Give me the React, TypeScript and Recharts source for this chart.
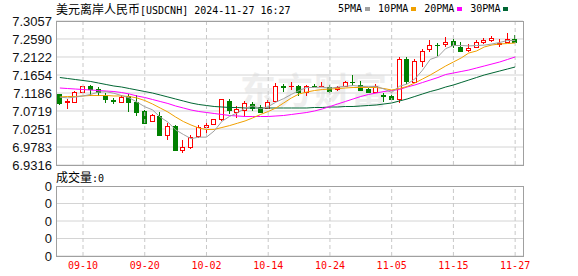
import { Bar, CartesianGrid, ComposedChart, Line, ReferenceLine, XAxis, YAxis } from "recharts";

const dates = [
  "09-05", "09-06", "09-09", "09-10", "09-11", "09-12", "09-13", "09-16", "09-17", "09-18",
  "09-19", "09-20", "09-23", "09-24", "09-25", "09-26", "09-27", "09-30", "10-01", "10-02",
  "10-03", "10-04", "10-07", "10-08", "10-09", "10-10", "10-11", "10-14", "10-15", "10-16",
  "10-17", "10-18", "10-21", "10-22", "10-23", "10-24", "10-25", "10-28", "10-29", "10-30",
  "10-31", "11-01", "11-04", "11-05", "11-06", "11-07", "11-08", "11-11", "11-12", "11-13",
  "11-14", "11-15", "11-18", "11-19", "11-20", "11-21", "11-22", "11-25", "11-26", "11-27",
];

const opens = [
  7.115, 7.095, 7.096, 7.122, 7.137, 7.129, 7.112, 7.1, 7.096, 7.11,
  7.096, 7.072, 7.046, 7.059, 7.01, 7.034, 6.971, 6.978, 7.007, 7.03,
  7.038, 7.052, 7.099, 7.07, 7.074, 7.09, 7.083, 7.079, 7.097, 7.136,
  7.137, 7.137, 7.12, 7.138, 7.137, 7.135, 7.128, 7.137, 7.148, 7.14,
  7.128, 7.122, 7.113, 7.111, 7.103, 7.207, 7.148, 7.202, 7.232, 7.244,
  7.246, 7.255, 7.239, 7.23, 7.239, 7.252, 7.256, 7.247, 7.251, 7.258,
];
const highs = [
  7.117, 7.102, 7.124, 7.138, 7.139, 7.135, 7.118, 7.105, 7.113, 7.116,
  7.113, 7.074, 7.064, 7.07, 7.04, 7.036, 6.996, 7.009, 7.035, 7.04,
  7.052, 7.104, 7.102, 7.085, 7.098, 7.096, 7.087, 7.1, 7.145, 7.143,
  7.147, 7.14, 7.14, 7.141, 7.148, 7.139, 7.138, 7.15, 7.165, 7.15,
  7.132, 7.141, 7.119, 7.113, 7.211, 7.212, 7.208, 7.234, 7.256, 7.248,
  7.265, 7.258, 7.251, 7.246, 7.256, 7.261, 7.268, 7.258, 7.274, 7.269,
];
const lows = [
  7.087, 7.076, 7.093, 7.121, 7.111, 7.111, 7.092, 7.089, 7.094, 7.07,
  7.059, 7.04, 7.044, 7.01, 6.996, 6.97, 6.962, 6.973, 7.003, 7.005,
  7.036, 7.046, 7.064, 7.055, 7.057, 7.072, 7.066, 7.077, 7.095, 7.122,
  7.126, 7.111, 7.111, 7.133, 7.133, 7.118, 7.125, 7.133, 7.137, 7.124,
  7.12, 7.119, 7.094, 7.1, 7.092, 7.142, 7.146, 7.187, 7.225, 7.216,
  7.239, 7.235, 7.225, 7.225, 7.237, 7.245, 7.251, 7.239, 7.248, 7.251,
];
const closes = [
  7.092, 7.097, 7.122, 7.137, 7.129, 7.122, 7.102, 7.099, 7.109, 7.096,
  7.07, 7.041, 7.061, 7.01, 7.033, 6.971, 6.979, 7.005, 7.031, 7.035,
  7.05, 7.102, 7.074, 7.076, 7.092, 7.08, 7.07, 7.096, 7.137, 7.135,
  7.138, 7.121, 7.136, 7.137, 7.138, 7.125, 7.135, 7.146, 7.147, 7.126,
  7.122, 7.138, 7.112, 7.102, 7.207, 7.15, 7.202, 7.228, 7.243, 7.243,
  7.252, 7.243, 7.229, 7.236, 7.25, 7.256, 7.261, 7.248, 7.258, 7.252,
];

const ma5 = [
  7.108, 7.106, 7.108, 7.111, 7.115, 7.121, 7.122, 7.118, 7.112, 7.106,
  7.095, 7.083, 7.075, 7.056, 7.043, 7.023, 7.011, 7.0, 7.004, 7.004,
  7.02, 7.045, 7.058, 7.067, 7.079, 7.085, 7.078, 7.083, 7.095, 7.104,
  7.115, 7.125, 7.133, 7.133, 7.134, 7.131, 7.134, 7.136, 7.138, 7.136,
  7.135, 7.136, 7.129, 7.12, 7.136, 7.142, 7.155, 7.178, 7.206, 7.213,
  7.234, 7.242, 7.242, 7.241, 7.242, 7.243, 7.246, 7.25, 7.255, 7.255,
];
const ma10 = [
  7.1083, 7.1096, 7.1096, 7.1109, 7.1122, 7.1122, 7.1122, 7.1109, 7.1109, 7.1096,
  7.1057, 7.0992, 7.0901, 7.0797, 7.0693, 7.0563, 7.0446, 7.0355, 7.0277, 7.0238,
  7.024, 7.029, 7.034, 7.04, 7.046, 7.054, 7.0628, 7.0706, 7.0797, 7.0927,
  7.1057, 7.1161, 7.1212, 7.1251, 7.1277, 7.129, 7.1303, 7.1316, 7.1329, 7.1329,
  7.1329, 7.1329, 7.1303, 7.1264, 7.1303, 7.1355, 7.1446, 7.155, 7.1654, 7.1771,
  7.1888, 7.1992, 7.2096, 7.2226, 7.2278, 7.2382, 7.2434, 7.246, 7.2472, 7.2485,
];
const ma20 = [
  7.1316, 7.1303, 7.129, 7.1277, 7.1264, 7.1251, 7.1238, 7.1225, 7.1199, 7.1161,
  7.1109, 7.107, 7.1018, 7.0966, 7.0914, 7.0849, 7.0797, 7.0745, 7.0706, 7.068,
  7.0654, 7.0628, 7.0602, 7.0589, 7.0576, 7.0576, 7.0576, 7.0576, 7.0589, 7.0602,
  7.0628, 7.0654, 7.068, 7.0719, 7.0771, 7.0836, 7.0901, 7.0966, 7.1031, 7.1096,
  7.1148, 7.1186, 7.1225, 7.1251, 7.1277, 7.1342, 7.1394, 7.1459, 7.1524, 7.1589,
  7.1667, 7.1706, 7.1745, 7.1784, 7.1836, 7.1888, 7.194, 7.1992, 7.2057, 7.2122,
];
const ma30 = [
  7.1589, 7.1563, 7.1537, 7.1511, 7.1485, 7.1446, 7.1407, 7.1368, 7.1342, 7.1303,
  7.1264, 7.1225, 7.1186, 7.1135, 7.1083, 7.1031, 7.0979, 7.0927, 7.0888, 7.0862,
  7.0836, 7.0823, 7.081, 7.081, 7.0797, 7.0797, 7.0797, 7.0797, 7.0797, 7.0797,
  7.0797, 7.0797, 7.0797, 7.081, 7.081, 7.0823, 7.0823, 7.0836, 7.0836, 7.0849,
  7.0862, 7.0875, 7.0901, 7.0927, 7.0979, 7.1031, 7.1096, 7.1161, 7.1225, 7.1277,
  7.1342, 7.1394, 7.1459, 7.1524, 7.1589, 7.1654, 7.1706, 7.1758, 7.181, 7.1862,
];

const dateTicks = ["09-10", "09-20", "10-02", "10-14", "10-24", "11-05", "11-15", "11-27"];
const priceTicks = [6.9316, 6.9783, 7.0251, 7.0719, 7.1186, 7.1654, 7.2122, 7.259, 7.3057];
// volume sub-panel: 4 empty rows, every label reads 0 (成交量:0)
const volumeRows = 4;

const legend = [
  { name: "5PMA", color: "#a0a0a0" },
  { name: "10PMA", color: "#f0a000" },
  { name: "20PMA", color: "#ff00ff" },
  { name: "30PMA", color: "#006633" },
];

const rows = dates.map((date, i) => ({
  date,
  open: opens[i],
  high: highs[i],
  low: lows[i],
  close: closes[i],
  ma5: ma5[i],
  ma10: ma10[i],
  ma20: ma20[i],
  ma30: ma30[i],
}));

// layout: the price panel spans 21..165px, the volume panel 186..256px on the same y axis
const PRICE_TOP = priceTicks[priceTicks.length - 1];
const PRICE_BOTTOM = priceTicks[0];
const unitPerPx = (PRICE_TOP - PRICE_BOTTOM) / (165 - 21);
const atPx = (px: number) => PRICE_TOP - (px - 21) * unitPerPx;
const axisBottom = atPx(256);
const volumeTickValues = Array.from({ length: volumeRows + 1 }, (_, k) => atPx(186 + (k * 70) / volumeRows));
const allTicks = [...volumeTickValues, ...priceTicks].sort((a, b) => a - b);

// each volume label reads "0"; a zero-width tail keeps the label strings distinct
const tickLabel = (v: number, i: number) =>
  v < PRICE_BOTTOM - 0.01 ? "0" + "\u200B".repeat(i) : v.toFixed(4);

const mono = "'DejaVu Sans Mono', monospace";
const cjk = "'Noto Sans CJK SC', sans-serif";
const axisFont = { fontSize: 13, fontFamily: "'Liberation Sans', Arial, sans-serif", fill: "#111" };

function Candle(props: any) {
  const { x, y, width, height, payload } = props;
  const { open, close, high, low } = payload;
  const top = Math.min(y, y + height);
  const h = Math.abs(height);
  const toY = (v: number) => top + ((high - v) / (high - low)) * h;
  const up = close >= open;
  const color = up ? "#ff0000" : "#008000";
  const L = Math.round(x + width / 2 - 2.5);
  const cx = L + 2.5;
  const hy = Math.round(toY(high));
  const ly = Math.round(toY(low));
  const bt = Math.round(Math.min(toY(open), toY(close)));
  const bb = Math.round(Math.max(toY(open), toY(close)));
  if (bb - bt < 1) {
    return (
      <g shapeRendering="crispEdges">
        <line x1={cx} x2={cx} y1={hy} y2={ly} stroke={color} />
        <line x1={L} x2={L + 5} y1={bt + 0.5} y2={bt + 0.5} stroke={color} />
      </g>
    );
  }
  if (up) {
    return (
      <g shapeRendering="crispEdges">
        <line x1={cx} x2={cx} y1={hy} y2={bt} stroke={color} />
        <line x1={cx} x2={cx} y1={bb + 1} y2={ly} stroke={color} />
        <rect x={L + 0.5} y={bt + 0.5} width={4} height={bb - bt} fill="#fff" stroke={color} />
      </g>
    );
  }
  return (
    <g shapeRendering="crispEdges">
      <line x1={cx} x2={cx} y1={hy} y2={ly} stroke={color} />
      <rect x={L} y={bt} width={5} height={bb - bt + 1} fill={color} />
    </g>
  );
}

export default function App() {
  return (
    <div style={{ position: "absolute", left: 0, top: 0, width: 578, height: 276, background: "#fff", overflow: "hidden" }}>
      <div style={{ position: "absolute", left: 240, top: 70, fontFamily: cjk, fontWeight: 700, fontSize: 36, lineHeight: "36px", color: "#eeeeee", letterSpacing: 1 }}>
        东方财富
      </div>

      <div style={{ position: "absolute", left: 0, top: 0 }}>
        <ComposedChart width={578} height={276} data={rows} margin={{ top: 21, bottom: 0, left: 6, right: 55 }}>
          <CartesianGrid vertical={false} stroke="#d4d4d4" />
          <XAxis
            dataKey="date"
            ticks={dateTicks}
            interval={0}
            height={20}
            padding={{ left: 0, right: 4 }}
            tickLine={false}
            axisLine={false}
            tickSize={0}
            tickMargin={6}
            tick={{ fontSize: 10, fontFamily: mono, fill: "#ff0000" }}
          />
          <YAxis
            type="number"
            domain={[axisBottom, PRICE_TOP]}
            allowDataOverflow
            ticks={allTicks}
            interval={0}
            width={50}
            tickLine={false}
            axisLine={false}
            tickSize={0}
            tickMargin={4}
            tick={axisFont}
            tickFormatter={tickLabel}
          />
          {dateTicks.map((d) => (
            <ReferenceLine key={d} x={d} stroke="#c8c8c8" strokeDasharray="4 3" />
          ))}
          <Bar dataKey={(d: any) => [d.low, d.high]} barSize={5} shape={Candle} isAnimationActive={false} />
          <Line type="linear" dataKey="ma30" stroke="#006633" strokeWidth={1} dot={false} isAnimationActive={false} />
          <Line type="linear" dataKey="ma20" stroke="#ff00ff" strokeWidth={1} dot={false} isAnimationActive={false} />
          <Line type="linear" dataKey="ma10" stroke="#f0a000" strokeWidth={1} dot={false} isAnimationActive={false} />
          <Line type="linear" dataKey="ma5" stroke="#a0a0a0" strokeWidth={1} dot={false} isAnimationActive={false} />
        </ComposedChart>
      </div>

      {/* blank strip between the two panels */}
      <div style={{ position: "absolute", left: 56, top: 166, width: 470, height: 20, background: "#fff" }} />

      <div style={{ position: "absolute", left: 56, top: 2, fontSize: 12, lineHeight: "14px", color: "#000", whiteSpace: "nowrap" }}>
        <span style={{ fontFamily: cjk }}>美元离岸人民币</span>
        <span style={{ fontFamily: mono, fontSize: 10 }}>[USDCNH] 2024-11-27 16:27</span>
      </div>
      <div style={{ position: "absolute", left: 338, top: 2, display: "flex", alignItems: "center", fontFamily: mono, fontSize: 10, lineHeight: "14px", color: "#000" }}>
        {legend.map((l) => (
          <span key={l.name} style={{ display: "flex", alignItems: "center", marginRight: 8 }}>
            {l.name}
            <span style={{ display: "inline-block", width: 5, height: 4, background: l.color, marginLeft: 3 }} />
          </span>
        ))}
      </div>
      <div style={{ position: "absolute", left: 56, top: 170, fontSize: 12, lineHeight: "14px", whiteSpace: "nowrap" }}>
        <span style={{ fontFamily: cjk }}>成交量</span>
        <span style={{ fontFamily: mono, fontSize: 10 }}>:0</span>
      </div>

      <div style={{ position: "absolute", left: 56, top: 21, width: 468, height: 145, boxSizing: "border-box", border: "1px solid #a0a0a0", pointerEvents: "none" }} />
      <div style={{ position: "absolute", left: 56, top: 186, width: 468, height: 71, boxSizing: "border-box", border: "1px solid #a0a0a0", pointerEvents: "none" }} />
    </div>
  );
}
